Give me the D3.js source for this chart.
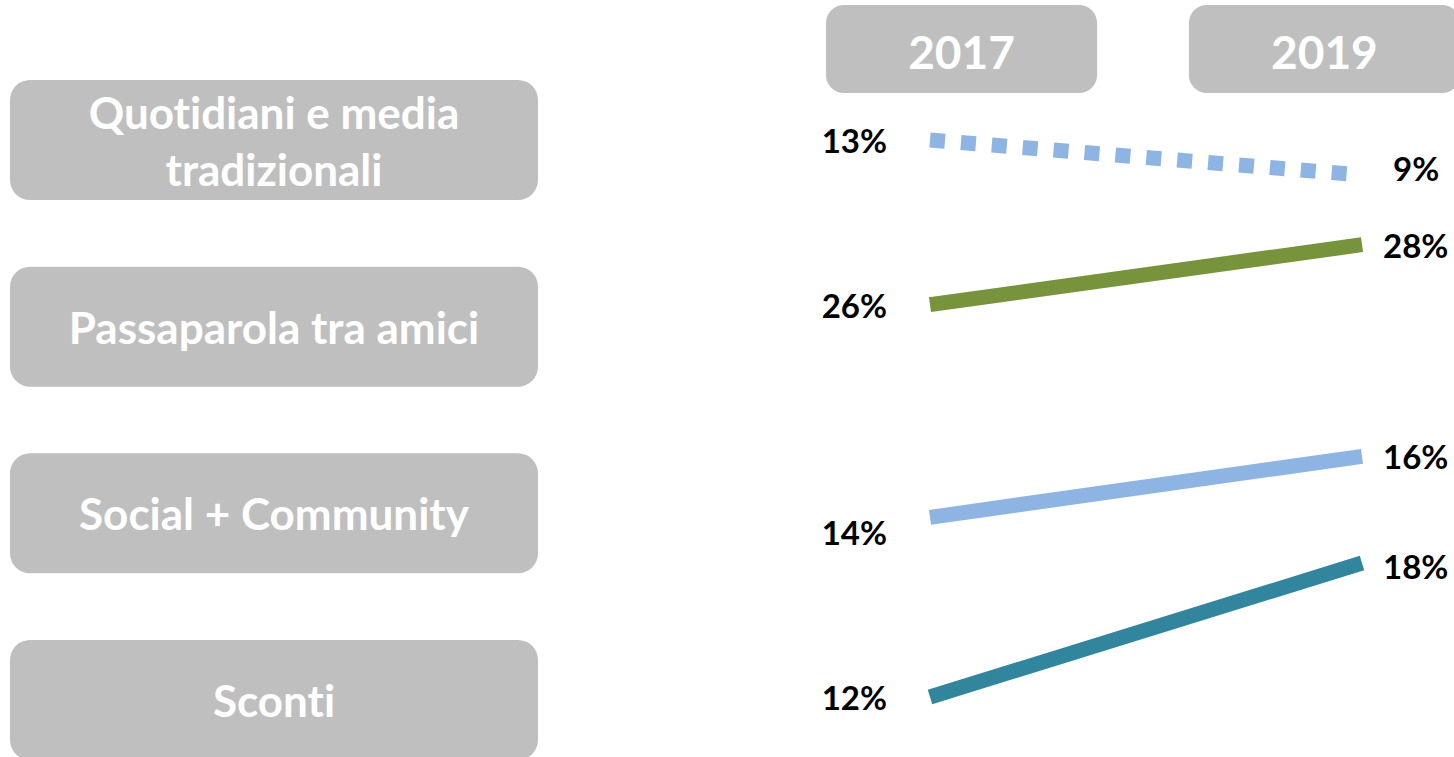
<!DOCTYPE html>
<html>
<head>
<meta charset="utf-8">
<script src="https://cdn.jsdelivr.net/npm/d3@7"></script>
<style>
  body { margin: 0; background: #fff; }
  text { font-family: Lato, "Open Sans", sans-serif; font-weight: bold; font-variant-ligatures: none; font-feature-settings: "liga" 0, "clig" 0; }
</style>
</head>
<body>
<script>
// data
const categories = ['Quotidiani e media tradizionali', 'Passaparola tra amici', 'Social + Community', 'Sconti'];
const categoryLines = [['Quotidiani e media', 'tradizionali'], ['Passaparola tra amici'], ['Social + Community'], ['Sconti']];
const years = ['2017', '2019'];
const values2017 = [13, 26, 14, 12];
const values2019 = [9, 28, 16, 18];

// styles / layout
const lineColors = ['#8eb4e3', '#77933c', '#8eb4e3', '#31859c'];
const lineDash = ['15,16', null, null, null];
// y of [min value, max value] relative to the row centre, one per row
const lineRange = [[35, 0], [-22, -82], [4, -57], [-3, -137]];
const labelNudge2017 = [0, 0, 15, 0];
const labelNudge2019 = [-7, 0, 0, 3];
const labelShift2019 = [10, 0, 0, 0];

const width = 1454, height = 757;
const grey = '#bfbfbf';

const svg = d3.select('body').append('svg')
  .attr('width', width)
  .attr('height', height);

// rows
const yRow = d3.scaleBand()
  .domain(categories)
  .range([80, 760])
  .paddingInner(0.357);

// year columns
const xLine = d3.scalePoint().domain(years).range([930, 1362]);
const xHead = d3.scaleBand().domain(years).range([826, 1460]).paddingInner(0.253);

// header boxes
const head = svg.append('g').selectAll('g')
  .data(years)
  .join('g');
head.append('rect')
  .attr('x', d => xHead(d))
  .attr('y', 5)
  .attr('width', xHead.bandwidth())
  .attr('height', 88)
  .attr('rx', 18)
  .attr('fill', grey);
head.append('text')
  .attr('x', d => xHead(d) + xHead.bandwidth() / 2)
  .attr('y', 51)
  .attr('text-anchor', 'middle')
  .attr('dominant-baseline', 'central')
  .attr('fill', '#fff')
  .attr('font-size', 46)
  .text(d => d);

// category boxes
const rows = svg.append('g').selectAll('g')
  .data(categories)
  .join('g');
rows.append('rect')
  .attr('x', 10)
  .attr('y', d => yRow(d))
  .attr('width', 528)
  .attr('height', yRow.bandwidth())
  .attr('rx', 20)
  .attr('fill', grey);
rows.each(function(d, i) {
  const lines = categoryLines[i];
  const cy = yRow(d) + yRow.bandwidth() / 2;
  d3.select(this).selectAll('text')
    .data(lines)
    .join('text')
    .attr('x', 274)
    .attr('y', (t, j) => cy + (j - (lines.length - 1) / 2) * 57)
    .attr('text-anchor', 'middle')
    .attr('dominant-baseline', 'central')
    .attr('fill', '#fff')
    .attr('font-size', 44)
    .text(t => t);
});

// slope lines, each row on its own small scale
const lineGen = d3.line();
categories.forEach((cat, i) => {
  const cy = yRow(cat) + yRow.bandwidth() / 2;
  const v = [values2017[i], values2019[i]];
  const y = d3.scaleLinear()
    .domain(d3.extent(v))
    .range([cy + lineRange[i][0], cy + lineRange[i][1]]);

  svg.append('path')
    .attr('d', lineGen(years.map((yr, k) => [xLine(yr), y(v[k])])))
    .attr('fill', 'none')
    .attr('stroke', lineColors[i])
    .attr('stroke-width', 15)
    .attr('stroke-dasharray', lineDash[i]);

  svg.append('text')
    .attr('x', xLine(years[0]) - 43)
    .attr('y', y(v[0]) + labelNudge2017[i])
    .attr('text-anchor', 'end')
    .attr('dominant-baseline', 'central')
    .attr('font-size', 33)
    .attr('fill', '#000')
    .text(v[0] + '%');

  svg.append('text')
    .attr('x', xLine(years[1]) + 21 + labelShift2019[i])
    .attr('y', y(v[1]) + labelNudge2019[i])
    .attr('text-anchor', 'start')
    .attr('dominant-baseline', 'central')
    .attr('font-size', 33)
    .attr('fill', '#000')
    .text(v[1] + '%');
});
</script>
</body>
</html>
